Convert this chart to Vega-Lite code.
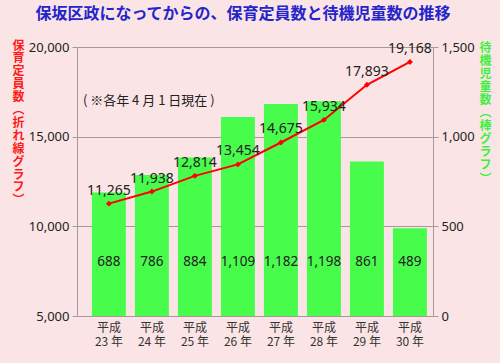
{
  "$schema": "https://vega.github.io/schema/vega-lite/v6.json",
  "width": 356,
  "height": 269,
  "autosize": {"type": "none"},
  "padding": {"left": 77, "top": 47, "right": 67, "bottom": 47},
  "background": "#fbe4e5",
  "config": {
    "view": {"stroke": "#a89898", "strokeWidth": 1},
    "font": "Noto Sans"
  },
  "title": {
    "text": "保坂区政になってからの、保育定員数と待機児童数の推移",
    "color": "#2424cc",
    "fontSize": 16,
    "fontWeight": "bold",
    "font": "Noto Sans CJK JP",
    "anchor": "middle",
    "frame": "group",
    "dx": -12,
    "offset": 17
  },
  "data": {
    "values": [
      {"year": "平成23年", "capacity": 11265, "waiting": 688},
      {"year": "平成24年", "capacity": 11938, "waiting": 786},
      {"year": "平成25年", "capacity": 12814, "waiting": 884},
      {"year": "平成26年", "capacity": 13454, "waiting": 1109},
      {"year": "平成27年", "capacity": 14675, "waiting": 1182},
      {"year": "平成28年", "capacity": 15934, "waiting": 1198},
      {"year": "平成29年", "capacity": 17893, "waiting": 861},
      {"year": "平成30年", "capacity": 19168, "waiting": 489}
    ]
  },
  "encoding": {
    "x": {
      "field": "year",
      "type": "nominal",
      "sort": null,
      "scale": {"paddingInner": 0.21, "paddingOuter": 0.244, "align": 0.71},
      "axis": {
        "title": null,
        "ticks": false,
        "domain": false,
        "labelAngle": 0,
        "labelExpr": "['平成', slice(datum.label, 2, 4) + ' 年']",
        "labelFont": "Noto Sans CJK JP",
        "labelFontSize": 12,
        "labelLineHeight": 14,
        "labelColor": "#333333",
        "labelPadding": 6
      }
    }
  },
  "layer": [
    {
      "encoding": {
        "y": {
          "field": "waiting",
          "type": "quantitative",
          "scale": {"domain": [0, 1500]},
          "axis": {
            "orient": "right",
            "values": [0, 500, 1000, 1500],
            "format": ",d",
            "grid": false,
            "domain": false,
            "tickColor": "#a89898",
            "tickSize": 5,
            "labelFontSize": 13,
            "labelColor": "#222222",
            "labelPadding": 3,
            "title": ["待","機","児","童","数","︵","棒","グ","ラ","フ","︶"],
            "titleAngle": 0,
            "titleColor": "#3ef03e",
            "titleFont": "Noto Sans CJK JP",
            "titleFontSize": 12,
            "titleFontWeight": "bold",
            "titleLineHeight": 13.1,
            "titleAlign": "center",
            "titleBaseline": "top",
            "titleX": 52,
            "titleY": -5
          }
        }
      },
      "layer": [
        {"mark": {"type": "bar", "color": "#48fc4c"}},
        {
          "mark": {"type": "text", "fontSize": 13.5, "color": "#222222"},
          "encoding": {
            "y": {"datum": 300},
            "text": {"field": "waiting", "type": "quantitative", "format": ",d"}
          }
        }
      ]
    },
    {
      "encoding": {
        "y": {
          "field": "capacity",
          "type": "quantitative",
          "scale": {"domain": [5000, 20000]},
          "axis": {
            "orient": "left",
            "values": [5000, 10000, 15000, 20000],
            "format": ",d",
            "grid": true,
            "gridColor": "#a89898",
            "gridOpacity": 1,
            "domain": false,
            "tickColor": "#a89898",
            "tickSize": 5,
            "labelFontSize": 13,
            "labelColor": "#222222",
            "labelPadding": 3,
            "title": ["保","育","定","員","数","︵","折","れ","線","グ","ラ","フ","︶"],
            "titleAngle": 0,
            "titleColor": "#ff1a1a",
            "titleFont": "Noto Sans CJK JP",
            "titleFontSize": 12,
            "titleFontWeight": "bold",
            "titleLineHeight": 12.9,
            "titleAlign": "center",
            "titleBaseline": "top",
            "titleX": -59,
            "titleY": -7
          }
        }
      },
      "layer": [
        {"mark": {"type": "line", "color": "#ff0000", "strokeWidth": 2}},
        {"mark": {"type": "point", "shape": "diamond", "filled": true, "color": "#ff0000", "size": 35, "opacity": 1}},
        {
          "mark": {"type": "text", "fontSize": 14, "color": "#222222", "baseline": "bottom", "dy": -6},
          "encoding": {"text": {"field": "capacity", "type": "quantitative", "format": ",d"}}
        },
        {
          "transform": [{"filter": "datum.year === '平成23年'"}],
          "mark": {"type": "text", "align": "left", "baseline": "middle", "fontSize": 13, "color": "#222222", "font": "Noto Sans CJK JP", "dx": -26},
          "encoding": {
            "y": {"datum": 17000},
            "text": {"value": "( ※各年 4 月 1 日現在 )"}
          }
        }
      ]
    }
  ],
  "resolve": {"scale": {"y": "independent"}}
}
